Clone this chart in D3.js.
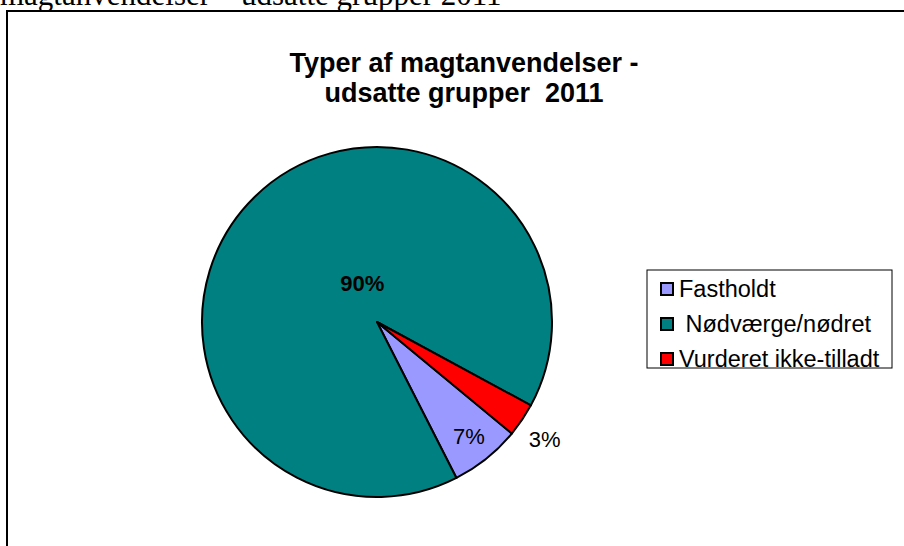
<!DOCTYPE html>
<html>
<head>
<meta charset="utf-8">
<script src="https://cdn.jsdelivr.net/npm/d3@7"></script>
<style>
  html, body { margin: 0; padding: 0; background: #fff; overflow: hidden; }
  svg { display: block; }
  text { white-space: pre; }
</style>
</head>
<body>
<svg id="chart" width="904" height="546"></svg>
<script>
const categories = ["Fastholdt", "Nødværge/nødret", "Vurderet ikke-tilladt"];
const legendLabels = ["Fastholdt", " Nødværge/nødret", "Vurderet ikke-tilladt"];
const values = [6.5, 90.4, 3.1];
const pctLabels = ["7%", "90%", "3%"];
const colors = ["#9999FF", "#008080", "#FF0000"];
const titleLines = ["Typer af magtanvendelser -", "udsatte grupper  2011"];
const captionText = "magtanvendelser – udsatte grupper 2011";

const svg = d3.select("#chart");

// clipped caption text above the chart (from the document)
svg.append("text")
  .attr("x", 0).attr("y", 5)
  .attr("font-family", "'Liberation Serif', 'Times New Roman', serif")
  .attr("font-size", 31)
  .attr("fill", "#000")
  .text(captionText);

// chart area border
svg.append("rect")
  .attr("x", 7).attr("y", 11)
  .attr("width", 910).attr("height", 560)
  .attr("fill", "#fff")
  .attr("stroke", "#000")
  .attr("stroke-width", 2);

// title
const title = svg.append("text")
  .attr("text-anchor", "middle")
  .attr("font-family", "'Liberation Sans', Arial, sans-serif")
  .attr("font-weight", "bold")
  .attr("font-size", 27)
  .attr("fill", "#000");
titleLines.forEach((t, i) => {
  title.append("tspan").attr("x", 464).attr("y", 72 + i * 30).text(t);
});

// pie
const cx = 377, cy = 322, r = 175;
const deg = Math.PI / 180;
const pie = d3.pie().sort(null).value(d => d)
  .startAngle(129.6 * deg).endAngle(129.6 * deg + 2 * Math.PI);
const arcs = pie(values);
const arc = d3.arc().innerRadius(0).outerRadius(r);

const g = svg.append("g").attr("transform", `translate(${cx},${cy})`);
g.selectAll("path.slice")
  .data(arcs)
  .join("path")
  .attr("class", "slice")
  .attr("d", arc)
  .attr("fill", (d, i) => colors[i])
  .attr("stroke", "#000")
  .attr("stroke-width", 2)
  .attr("stroke-linejoin", "round");

// labels
const labelPos = [
  { r: 0.84, bold: false, dx: 0, dy: 0 },
  { r: 0.30, bold: true, dx: 22, dy: -1 },
  { r: 1.17, bold: false, dx: -2, dy: 3 }
];
const labelArc = (d, i) => {
  const a = (d.startAngle + d.endAngle) / 2;
  const rr = r * labelPos[i].r;
  return [Math.sin(a) * rr + labelPos[i].dx, -Math.cos(a) * rr + labelPos[i].dy];
};
g.selectAll("text.lbl")
  .data(arcs)
  .join("text")
  .attr("class", "lbl")
  .attr("x", (d, i) => labelArc(d, i)[0])
  .attr("y", (d, i) => labelArc(d, i)[1])
  .attr("text-anchor", "middle")
  .attr("dominant-baseline", "central")
  .attr("font-family", "'Liberation Sans', Arial, sans-serif")
  .attr("font-size", 22)
  .attr("font-weight", (d, i) => labelPos[i].bold ? "bold" : "normal")
  .attr("fill", "#000")
  .text((d, i) => pctLabels[i]);

// legend
const lg = svg.append("g");
lg.append("rect")
  .attr("x", 647).attr("y", 270)
  .attr("width", 245).attr("height", 98)
  .attr("fill", "#fff")
  .attr("stroke", "#000")
  .attr("stroke-width", 1);
const rowY = d3.scalePoint().domain(categories).range([289, 359]);
categories.forEach((c, i) => {
  const y = rowY(c);
  lg.append("rect")
    .attr("x", 661).attr("y", y - 6)
    .attr("width", 12).attr("height", 12)
    .attr("fill", colors[i])
    .attr("stroke", "#000")
    .attr("stroke-width", 2);
  lg.append("text")
    .attr("x", 679).attr("y", y)
    .attr("dominant-baseline", "central")
    .attr("font-family", "'Liberation Sans', Arial, sans-serif")
    .attr("font-size", 23.5)
    .attr("fill", "#000")
    .text(legendLabels[i]);
});
</script>
</body>
</html>
